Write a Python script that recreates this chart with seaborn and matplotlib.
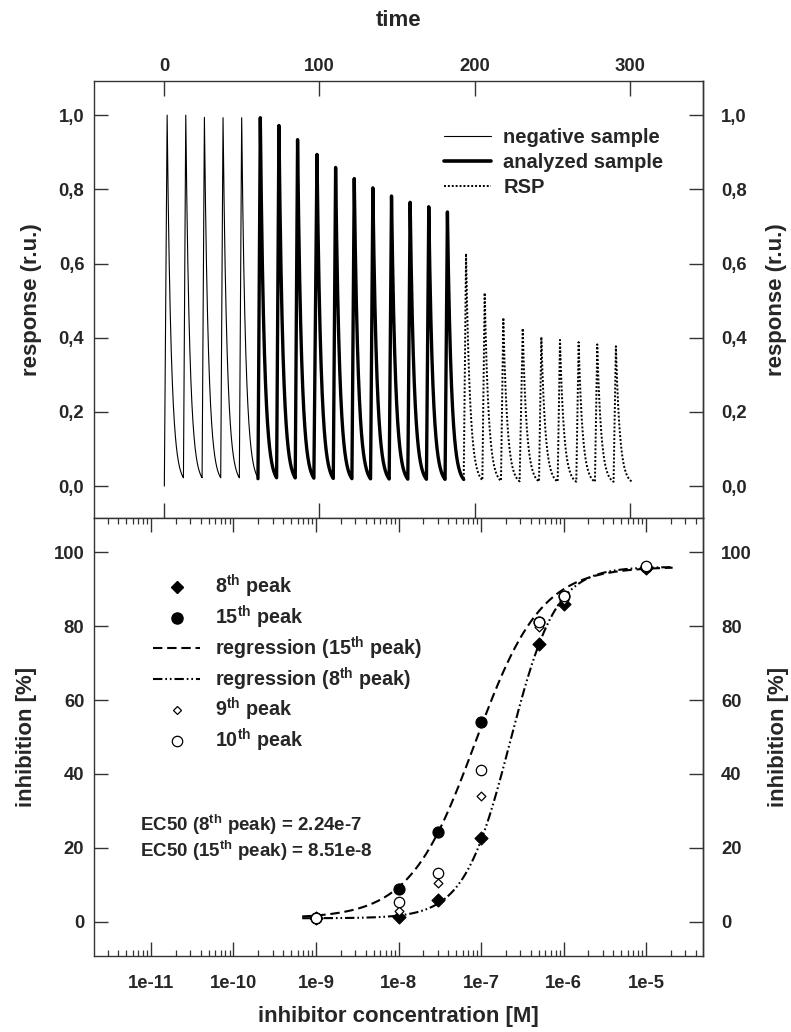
import numpy as np
import pandas as pd
import matplotlib
matplotlib.use("Agg")
import matplotlib.pyplot as plt
import seaborn as sns
from matplotlib.lines import Line2D
from matplotlib.ticker import FixedLocator, LogLocator, NullFormatter, FuncFormatter

# ---------------- data: top panel (response vs time) ----------------
neg_times = [2, 14, 26, 38, 50]
neg_peaks = [1.000, 1.000, 0.994, 0.993, 0.993]
ana_times = [62, 74, 86, 98.5, 110.5, 122.5, 134.5, 146.5, 158.5, 170.5, 182.5]
ana_peaks = [0.993, 0.972, 0.934, 0.894, 0.859, 0.829, 0.804, 0.782, 0.765, 0.753, 0.739]
rsp_times = [194.5, 206.5, 218.5, 231, 243, 255, 267, 279, 291]
rsp_peaks = [0.627, 0.521, 0.454, 0.425, 0.402, 0.394, 0.388, 0.382, 0.377]
peak_baseline = 0.005
rise_time = 1.5
decay_tau = 2.6
decay_len = 10.5
time_ticks = [0, 100, 200, 300]
resp_ticks = [0.0, 0.2, 0.4, 0.6, 0.8, 1.0]

# ---------------- data: bottom panel (inhibition vs concentration) ----------------
conc = [1e-9, 1e-8, 3e-8, 1e-7, 5e-7, 1e-6, 1e-5]
peak8 = [1.0, 1.4, 5.9, 22.6, 75.1, 85.9, 95.8]
peak15 = [1.0, 9.0, 24.4, 54.0, 81.2, 88.0, 96.0]
peak9 = [1.0, 3.0, 10.5, 34.1, 79.8, 87.0, 96.0]
peak10 = [1.0, 5.4, 13.2, 41.1, 81.0, 88.1, 96.2]
ec50_8, hill_8 = 2.24e-7, 1.56
ec50_15, hill_15 = 8.51e-8, 1.09
fit_bottom, fit_top = 1.0, 96.0
fit_lo, fit_hi = 6.8e-10, 2.1e-5
inh_ticks = [0, 20, 40, 60, 80, 100]
conc_ticks = [1e-11, 1e-10, 1e-9, 1e-8, 1e-7, 1e-6, 1e-5]


def build_trace(times, peaks, start):
    ts, ys = [start[0]], [start[1]]
    for t, h in zip(times, peaks):
        d = np.linspace(0, decay_len, 80)
        ts.extend(t + d)
        ys.extend(peak_baseline + (h - peak_baseline) * np.exp(-d / decay_tau))
    return pd.DataFrame({"time": ts, "response": ys})


def logistic(x, ec50, hill):
    x = np.asarray(x)
    return fit_bottom + (fit_top - fit_bottom) / (1 + (ec50 / x) ** hill)


sns.set_theme(style="ticks")
plt.rcParams["font.family"] = ["Liberation Sans", "DejaVu Sans"]
plt.rcParams["font.weight"] = "bold"
plt.rcParams["axes.labelweight"] = "bold"
plt.rcParams["mathtext.fontset"] = "custom"
plt.rcParams["mathtext.rm"] = "Liberation Sans:bold"
plt.rcParams["mathtext.bf"] = "Liberation Sans:bold"
plt.rcParams["mathtext.it"] = "Liberation Sans:bold"
plt.rcParams["axes.edgecolor"] = "#333333"
plt.rcParams["axes.linewidth"] = 1.0

W, H = 791, 1032
fig = plt.figure(figsize=(W / 100, H / 100), dpi=100)
L, R = 94, 703
ax_top = fig.add_axes([L / W, 1 - 518 / H, (R - L) / W, (518 - 81) / H])
ax_bot = fig.add_axes([L / W, 1 - 956 / H, (R - L) / W, (956 - 518) / H])

TICK_FS = 13.3
LAB_FS = 16
tick_col = "#333333"
comma_fmt = FuncFormatter(lambda v, p: f"{v:.1f}".replace(".", ","))

# ---------------- top panel ----------------
neg_df = build_trace(neg_times, neg_peaks, (0.2, 0.0))
ana_df = build_trace(ana_times, ana_peaks, (ana_times[0] - rise_time, 0.02))
rsp_df = build_trace(rsp_times, rsp_peaks, (rsp_times[0] - rise_time, 0.02))

sns.lineplot(data=neg_df, x="time", y="response", ax=ax_top, color="black",
             linewidth=0.8, sort=False, estimator=None)
sns.lineplot(data=ana_df, x="time", y="response", ax=ax_top, color="black",
             linewidth=2.4, sort=False, estimator=None)
sns.lineplot(data=rsp_df, x="time", y="response", ax=ax_top, color="black",
             linewidth=1.4, sort=False, estimator=None)
ax_top.lines[-1].set_dashes((1.0, 1.0))

ax_top.set_xlim(-45.1, 347.1)
ax_top.set_ylim(-0.086, 1.092)
ax_top.xaxis.set_major_locator(FixedLocator(time_ticks))
ax_top.yaxis.set_major_locator(FixedLocator(resp_ticks))
ax_top.yaxis.set_major_formatter(comma_fmt)
ax_top.tick_params(axis="x", which="major", top=True, bottom=True, labeltop=True,
                   labelbottom=False, direction="in", length=11, width=1,
                   pad=4, labelsize=TICK_FS, color=tick_col)
ax_top.tick_params(axis="y", which="major", left=True, right=False, direction="in",
                   length=10.3, width=1, pad=7, labelsize=TICK_FS, color=tick_col)
ax_top.xaxis.set_label_position("top")
ax_top.set_xlabel("time", fontsize=LAB_FS, fontweight="bold", labelpad=23)
ax_top.set_ylabel("response (r.u.)", fontsize=LAB_FS, fontweight="bold", labelpad=12)

sec_top = ax_top.secondary_yaxis("right")
sec_top.yaxis.set_major_locator(FixedLocator(resp_ticks))
sec_top.yaxis.set_major_formatter(comma_fmt)
sec_top.tick_params(axis="y", direction="in", length=10.3, width=1, pad=13,
                    labelsize=TICK_FS, color=tick_col)
sec_top.set_ylabel("response (r.u.)", fontsize=LAB_FS, fontweight="bold", labelpad=14)

top_handles = [Line2D([], [], color="black", lw=0.8),
               Line2D([], [], color="black", lw=2.6),
               Line2D([], [], color="black", lw=1.4, dashes=(1.0, 1.0))]
ax_top.legend(top_handles, ["negative sample", "analyzed sample", "RSP"],
              loc="upper left", bbox_to_anchor=(0.5747, 0.8915), frameon=False,
              borderpad=0, borderaxespad=0, handlelength=2.35, handletextpad=0.6,
              labelspacing=0.3, prop={"size": 14.5, "weight": "bold"})

# ---------------- bottom panel ----------------
xfit = np.logspace(np.log10(fit_lo), np.log10(fit_hi), 300)
fit15 = pd.DataFrame({"c": xfit, "inh": logistic(xfit, ec50_15, hill_15)})
fit8 = pd.DataFrame({"c": xfit, "inh": logistic(xfit, ec50_8, hill_8)})
sns.lineplot(data=fit15, x="c", y="inh", ax=ax_bot, color="black", linewidth=1.5,
             sort=False, estimator=None)
ax_bot.lines[-1].set_dashes((4.5, 2.3))
sns.lineplot(data=fit8, x="c", y="inh", ax=ax_bot, color="black", linewidth=1.5,
             sort=False, estimator=None)
ax_bot.lines[-1].set_dashes((4.5, 1.4, 0.8, 1.4, 0.8, 1.4))

pts = pd.DataFrame({"c": conc, "p8": peak8, "p15": peak15, "p9": peak9, "p10": peak10})
sns.scatterplot(data=pts, x="c", y="p8", ax=ax_bot, marker="D", s=44,
                color="black", edgecolor="black", linewidth=0.8, zorder=3)
sns.scatterplot(data=pts, x="c", y="p15", ax=ax_bot, marker="o", s=64,
                color="black", edgecolor="black", linewidth=0.8, zorder=3)
sns.scatterplot(data=pts, x="c", y="p9", ax=ax_bot, marker="D", s=20,
                color="white", edgecolor="black", linewidth=0.9, zorder=4)
sns.scatterplot(data=pts, x="c", y="p10", ax=ax_bot, marker="o", s=56,
                color="white", edgecolor="black", linewidth=0.9, zorder=4)

ax_bot.set_xscale("log")
ax_bot.set_xlim(10 ** -11.69, 10 ** -4.31)
ax_bot.set_ylim(-9.2, 109.2)
ax_bot.xaxis.set_major_locator(FixedLocator(conc_ticks))
ax_bot.xaxis.set_minor_locator(LogLocator(base=10, subs=np.arange(2, 10), numticks=40))
ax_bot.xaxis.set_minor_formatter(NullFormatter())
ax_bot.xaxis.set_major_formatter(FuncFormatter(lambda v, p: f"1e{int(round(np.log10(v)))}"))
ax_bot.yaxis.set_major_locator(FixedLocator(inh_ticks))
ax_bot.tick_params(axis="x", which="major", top=True, bottom=True, direction="in",
                   length=10, width=1, pad=14, labelsize=TICK_FS, color=tick_col)
ax_bot.tick_params(axis="x", which="minor", top=True, bottom=True, direction="in",
                   length=4.5, width=0.9, color=tick_col)
ax_bot.tick_params(axis="y", which="major", left=True, right=False, direction="in",
                   length=10.3, width=1, pad=7, labelsize=TICK_FS, color=tick_col)
ax_bot.set_xlabel("inhibitor concentration [M]", fontsize=LAB_FS, fontweight="bold", labelpad=10)
ax_bot.set_ylabel("inhibition [%]", fontsize=LAB_FS, fontweight="bold", labelpad=12)

sec_bot = ax_bot.secondary_yaxis("right")
sec_bot.yaxis.set_major_locator(FixedLocator(inh_ticks))
sec_bot.tick_params(axis="y", direction="in", length=10.3, width=1, pad=13,
                    labelsize=TICK_FS, color=tick_col)
sec_bot.set_ylabel("inhibition [%]", fontsize=LAB_FS, fontweight="bold", labelpad=12)

bot_handles = [
    Line2D([], [], ls="none", marker="D", ms=6.6, mfc="black", mec="black"),
    Line2D([], [], ls="none", marker="o", ms=8, mfc="black", mec="black"),
    Line2D([], [], color="black", lw=1.5, dashes=(4.5, 2.3)),
    Line2D([], [], color="black", lw=1.5, dashes=(4.5, 1.4, 0.8, 1.4, 0.8, 1.4)),
    Line2D([], [], ls="none", marker="D", ms=4.5, mfc="white", mec="black", mew=0.9),
    Line2D([], [], ls="none", marker="o", ms=7.5, mfc="white", mec="black", mew=0.9),
]
bot_labels = [r"8$^{\mathrm{th}}$ peak", r"15$^{\mathrm{th}}$ peak",
              r"regression (15$^{\mathrm{th}}$ peak)", r"regression (8$^{\mathrm{th}}$ peak)",
              r"9$^{\mathrm{th}}$ peak", r"10$^{\mathrm{th}}$ peak"]
ax_bot.legend(bot_handles, bot_labels, loc="upper left", bbox_to_anchor=(0.0974, 0.874),
              frameon=False, borderpad=0, borderaxespad=0, handlelength=2.37,
              handletextpad=0.76, labelspacing=0.18, prop={"size": 14.2, "weight": "bold"})

ax_bot.text(0.0755, 0.299, r"EC50 (8$^{\mathrm{th}}$ peak) = 2.24e-7", transform=ax_bot.transAxes,
            fontsize=13.5, fontweight="bold", va="center", ha="left")
ax_bot.text(0.0755, 0.240, r"EC50 (15$^{\mathrm{th}}$ peak) = 8.51e-8", transform=ax_bot.transAxes,
            fontsize=13.5, fontweight="bold", va="center", ha="left")

for a in (ax_top, ax_bot):
    for s in a.spines.values():
        s.set_color("#333333")
        s.set_linewidth(1.0)

fig.savefig("out.png", dpi=100)
